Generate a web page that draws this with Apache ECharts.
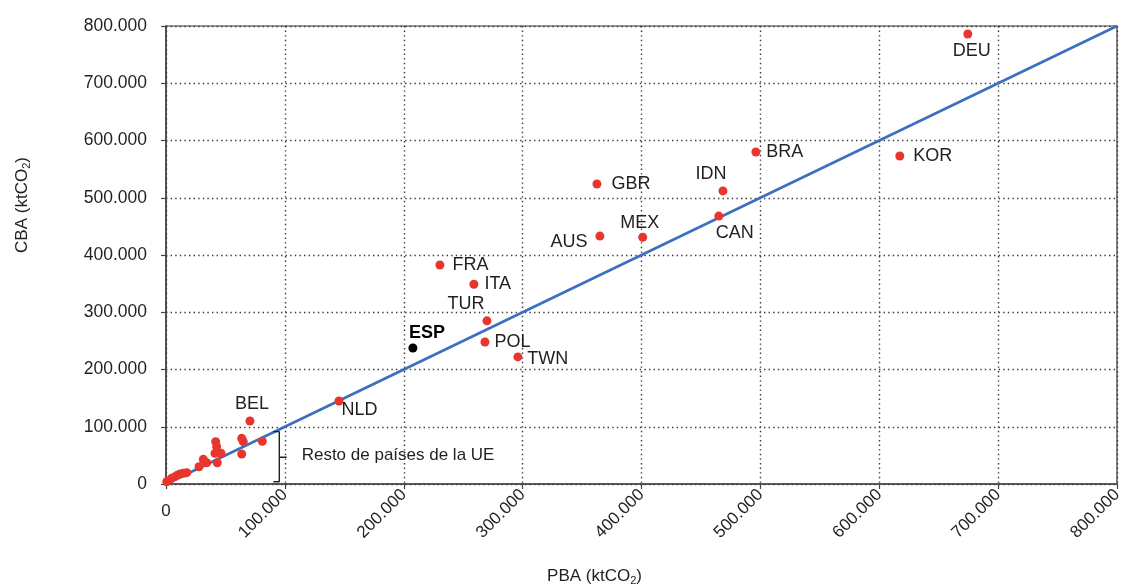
<!DOCTYPE html>
<html>
<head>
<meta charset="utf-8">
<title>PBA vs CBA</title>
<script src="https://cdn.jsdelivr.net/npm/echarts@6/dist/echarts.min.js"></script>
<style>
  html, body { margin: 0; padding: 0; background: #ffffff; }
  #chart { width: 1126px; height: 587px; }
</style>
</head>
<body>
<div id="chart"></div>
<script>
// Named countries: production-based (PBA) and consumption-based (CBA) emissions, ktCO2
const countries = ['DEU', 'KOR', 'BRA', 'IDN', 'CAN', 'GBR', 'MEX', 'AUS', 'FRA', 'ITA', 'TUR', 'POL', 'TWN', 'NLD', 'BEL'];
const pbaCountries = [674500, 617300, 496200, 468500, 465000, 362500, 401000, 365000, 230400, 259000, 270000, 268300, 296000, 145500, 70600];
const cbaCountries = [786000, 573000, 580000, 512000, 468000, 524000, 431000, 433000, 382500, 349000, 285000, 248000, 222000, 145000, 110000];

// Spain, highlighted
const espName = 'ESP';
const pbaEsp = 207700;
const cbaEsp = 237600;

// Remaining EU countries (unlabelled)
const pbaRestEU = [81000, 63700, 65000, 63700, 41800, 42600, 41200, 46300, 43100, 31400, 34200, 27800, 17400, 14600, 11800, 9500, 7600, 4800, 1900, 600];
const cbaRestEU = [74600, 79800, 73900, 52400, 73900, 65200, 53600, 53600, 37200, 43100, 37200, 30200, 19800, 18700, 17500, 15500, 12800, 10000, 5800, 4000];
const restEULabel = 'Resto de países de la UE';

// Reference line PBA = CBA
const parityLine = [[0, 0], [800000, 800000]];

// Bracket marking the rest-of-EU cluster (data units); index 3 is the notch tip
const bracketX = [90300, 95300, 95300, 101500, 95300, 95300, 90300];
const bracketY = [91400, 91400, 46600, 46600, 46600, 4000, 4000];
const bracketTip = 3;

// Axis ticks
const axisMin = 0;
const axisMax = 800000;
const axisStep = 100000;

const TEXT = '#231f20';
const FONT = 'Liberation Sans, Arial, sans-serif';

function fmt(v) {
  return String(Math.round(v)).replace(/\B(?=(\d{3})+(?!\d))/g, '.');
}

// Per-label placement around each country marker
const labelPlacement = {
  DEU: { position: 'bottom', distance: 3, offset: [4, 1] },
  KOR: { position: 'right', distance: 9, offset: [0, 0] },
  BRA: { position: 'right', distance: 6, offset: [0, 0] },
  IDN: { position: 'top', distance: 3, offset: [-12, 0] },
  CAN: { position: 'bottom', distance: 3, offset: [16, 0] },
  GBR: { position: 'right', distance: 10, offset: [0, 0] },
  MEX: { position: 'top', distance: 1, offset: [-3, 0] },
  AUS: { position: 'left', distance: 8, offset: [0, 6] },
  FRA: { position: 'right', distance: 8, offset: [0, 0] },
  ITA: { position: 'right', distance: 6, offset: [0, 0] },
  TUR: { position: 'top', distance: 3, offset: [-21, 0] },
  POL: { position: 'right', distance: 5, offset: [0, 0] },
  TWN: { position: 'right', distance: 5, offset: [0, 2] },
  NLD: { position: 'right', distance: 3, offset: [-5, 9] },
  BEL: { position: 'top', distance: 3, offset: [2, 0] }
};

const countryData = countries.map((name, i) => {
  const p = labelPlacement[name];
  return {
    name: name,
    value: [pbaCountries[i], cbaCountries[i]],
    label: { show: true, formatter: name, position: p.position, distance: p.distance, offset: p.offset }
  };
});

const nameRich = {
  a: { fontSize: 17, color: TEXT, fontFamily: FONT },
  s: { fontSize: 11, color: TEXT, fontFamily: FONT, padding: [9, 0, 0, 0] }
};

const gridLine = { show: true, lineStyle: { color: '#3a3a3a', width: 1.4, type: [1.4, 3.2] } };

const chart = echarts.init(document.getElementById('chart'), null, { renderer: 'canvas' });

chart.setOption({
  backgroundColor: '#ffffff',
  animation: false,
  textStyle: { fontFamily: FONT, color: TEXT },
  grid: {
    left: 166, right: 9, top: 26, bottom: 103,
    outerBoundsMode: 'none',
    containLabel: false,
    show: true, borderColor: '#333333', borderWidth: 1.2, backgroundColor: 'transparent'
  },
  xAxis: [{
    type: 'value',
    min: axisMin, max: axisMax, interval: axisStep,
    name: '{a|PBA (ktCO}{s|2}{a|)}',
    nameLocation: 'middle',
    nameGap: 82,
    nameTextStyle: { rich: nameRich, padding: [0, 94, 0, 0] },
    axisLine: { show: true, onZero: false, lineStyle: { color: '#444444', width: 1.5 } },
    axisTick: { show: true, inside: false, length: 5, lineStyle: { color: '#444444', width: 1.2 } },
    axisLabel: {
      rotate: 45, margin: 8, fontSize: 17, color: TEXT, fontFamily: FONT,
      formatter: v => (v === 0 ? '' : fmt(v))
    },
    splitLine: gridLine
  }, {
    // upright origin label
    type: 'value',
    position: 'bottom',
    min: axisMin, max: axisMax, interval: axisMax,
    axisLine: { show: false }, axisTick: { show: false }, splitLine: { show: false },
    axisLabel: {
      margin: 19, fontSize: 17, color: TEXT, fontFamily: FONT,
      formatter: v => (v === 0 ? '0' : '')
    }
  }],
  yAxis: {
    type: 'value',
    min: axisMin, max: axisMax, interval: axisStep,
    name: '{a|CBA (ktCO}{s|2}{a|)}',
    nameLocation: 'middle',
    nameGap: 134,
    nameRotate: 90,
    nameTextStyle: { rich: nameRich, padding: [0, 0, 0, 100] },
    axisLine: { show: true, onZero: false, lineStyle: { color: '#444444', width: 1.5 } },
    axisTick: { show: true, inside: false, length: 5, lineStyle: { color: '#444444', width: 1.2 } },
    axisLabel: { margin: 19, fontSize: 17.5, color: TEXT, fontFamily: FONT, formatter: v => fmt(v) },
    splitLine: gridLine
  },
  series: [
    {
      name: 'PBA = CBA',
      type: 'line',
      data: parityLine,
      symbol: 'none',
      lineStyle: { color: '#3b6fbf', width: 2.6 },
      z: 2
    },
    {
      name: 'Resto UE bracket',
      type: 'line',
      data: bracketX.map((x, i) => [x, bracketY[i]]),
      symbol: 'none',
      lineStyle: { color: '#222222', width: 1.4 },
      z: 2
    },
    {
      name: 'Resto UE',
      type: 'scatter',
      data: pbaRestEU.map((x, i) => [x, cbaRestEU[i]]),
      symbol: 'circle',
      symbolSize: 9,
      itemStyle: { color: '#e8352e', opacity: 1 },
      z: 3
    },
    {
      name: 'Países',
      type: 'scatter',
      data: countryData,
      symbol: 'circle',
      symbolSize: 9,
      itemStyle: { color: '#e8352e', opacity: 1 },
      label: { fontSize: 18, color: TEXT, fontFamily: FONT },
      z: 3
    },
    {
      name: espName,
      type: 'scatter',
      data: [{ name: espName, value: [pbaEsp, cbaEsp] }],
      symbol: 'circle',
      symbolSize: 9,
      itemStyle: { color: '#000000', opacity: 1 },
      label: {
        show: true, formatter: espName, position: 'top', distance: 3, offset: [14, 2],
        fontSize: 18, fontWeight: 'bold', color: '#000000', fontFamily: FONT
      },
      z: 3
    }
  ]
});

// Caption beside the bracket notch, anchored through the axis scales
const tip = chart.convertToPixel({ xAxisIndex: 0, yAxisIndex: 0 }, [bracketX[bracketTip], bracketY[bracketTip]]);
chart.setOption({
  graphic: [{
    type: 'text',
    x: tip[0] + 15,
    y: tip[1] - 2,
    silent: true,
    z: 10,
    style: {
      text: restEULabel,
      fill: TEXT,
      font: '17px ' + FONT,
      textAlign: 'left',
      textVerticalAlign: 'middle'
    }
  }]
});
</script>
</body>
</html>
